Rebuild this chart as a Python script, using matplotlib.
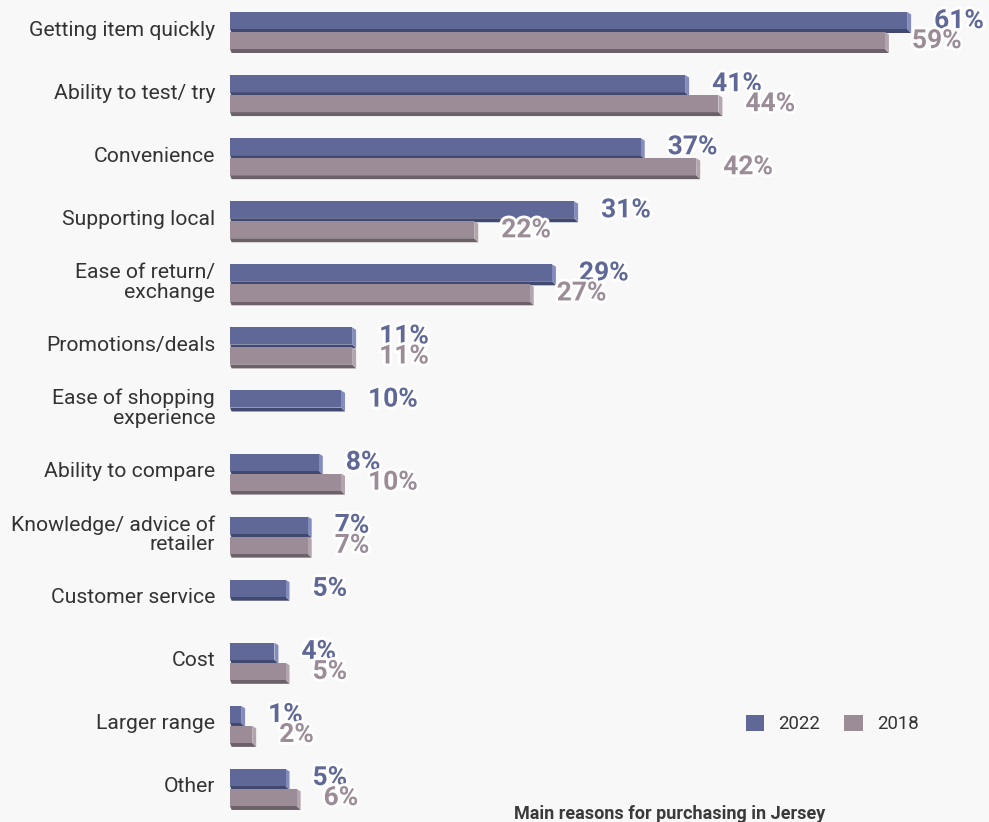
import matplotlib
matplotlib.use("Agg")
import matplotlib.pyplot as plt
import matplotlib.patheffects as pe
from matplotlib.patches import Polygon, Patch
import numpy as np

plt.rcParams['font.family'] = ['Roboto', 'DejaVu Sans']

categories = [
    "Getting item quickly", "Ability to test/ try", "Convenience",
    "Supporting local", "Ease of return/\nexchange", "Promotions/deals",
    "Ease of shopping\nexperience", "Ability to compare",
    "Knowledge/ advice of\nretailer", "Customer service", "Cost",
    "Larger range", "Other",
]
values_2022 = [61, 41, 37, 31, 29, 11, 10, 8, 7, 5, 4, 1, 5]
values_2018 = [59, 44, 42, 22, 27, 11, None, 10, 7, None, 5, 2, 6]
series_labels = ["2022", "2018"]

BG = "#f8f8f8"
FRONT = {"2022": "#5f6896", "2018": "#9b8c97"}
SIDE = {"2022": "#838cbc", "2018": "#b2a5ae"}
BOTTOM = {"2022": "#424970", "2018": "#6c6169"}
TEXT = "#333333"

W, H, DPI = 989, 822, 100
fig = plt.figure(figsize=(W / DPI, H / DPI), dpi=DPI, facecolor=BG)

# axes geometry in pixels
x0_px = 230
px_per_unit = 11.1
row_px = 63.08
first_row_px = 30

ax = fig.add_axes([x0_px / W, 0, 1 - x0_px / W, 1])
ax.set_facecolor(BG)
ax.set_xlim(0, (W - x0_px) / px_per_unit)
ax.set_ylim((H - first_row_px) / row_px, -first_row_px / row_px)
ax.axis("off")

n = len(categories)
y = np.arange(n)
bar_h = 17 / row_px
offsets = {"2022": -9.5 / row_px, "2018": 10.5 / row_px}
depth_x = 4.0 / px_per_unit
depth_y = 4.0 / row_px
label_gap = 27 / px_per_unit


def draw_series(values, key):
    idx = [i for i, v in enumerate(values) if v is not None]
    vals = np.array([values[i] for i in idx], dtype=float)
    ys = y[idx] + offsets[key]
    bars = ax.barh(ys, vals, height=bar_h, color=FRONT[key], zorder=3)
    for rect, v in zip(bars, vals):
        top = rect.get_y()
        bot = top + rect.get_height()
        # bottom face
        ax.add_patch(Polygon(
            [(0, bot), (v, bot), (v + depth_x, bot + depth_y), (depth_x * 0.4, bot + depth_y)],
            closed=True, facecolor=BOTTOM[key], edgecolor="none", zorder=2))
        # right face
        ax.add_patch(Polygon(
            [(v, top), (v + depth_x, top + depth_y * 0.6), (v + depth_x, bot + depth_y), (v, bot)],
            closed=True, facecolor=SIDE[key], edgecolor="none", zorder=2))
        ax.text(v + label_gap, top + rect.get_height() / 2 + 0.6 / row_px, f"{int(v)}%",
                ha="left", va="center", fontsize=19, fontweight="bold",
                color=FRONT[key], zorder=5,
                path_effects=[pe.withStroke(linewidth=4, foreground="white")])


draw_series(values_2022, "2022")
draw_series(values_2018, "2018")

# category labels
for i, cat in enumerate(categories):
    ax.text(-15 / px_per_unit, i, cat, ha="right", va="center",
            fontsize=15.2, color=TEXT, linespacing=1.05, clip_on=False)

# legend
handles = [Patch(facecolor=FRONT[k], edgecolor="none") for k in series_labels]
fig.legend(handles, series_labels, loc="center",
           bbox_to_anchor=(832 / W, 1 - 724 / H), ncol=2, frameon=False,
           fontsize=13.4, handlelength=1.0, handleheight=1.0,
           handletextpad=0.75, columnspacing=1.3, labelcolor=TEXT)

# caption
fig.text(514 / W, 1 - 819 / H, "Main reasons for purchasing in Jersey",
         ha="left", va="baseline", fontsize=13, fontweight="bold",
         color="#3a3a3a")

fig.savefig("out.png", dpi=DPI, facecolor=BG)
